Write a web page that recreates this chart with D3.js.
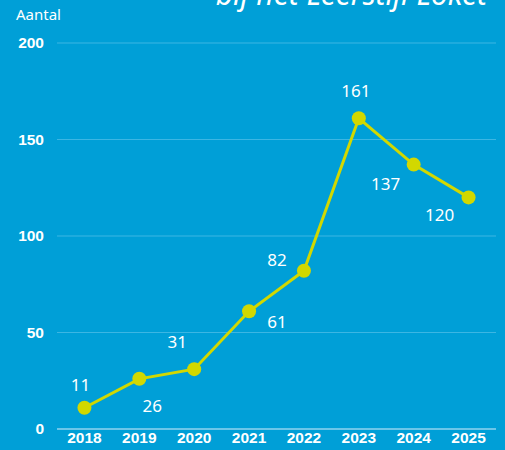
<!DOCTYPE html>
<html lang="nl">
<head>
  <meta charset="UTF-8"/>
  <title>Aantal aanmeldingen</title>
  <script src="https://d3js.org/d3.v7.min.js"></script>
  <style>
    body { margin: 0; background-color: #009fd7; }
    svg { display: block; font-family: "Noto Sans", "Open Sans", sans-serif; }
  </style>
</head>
<body>
<script>
  var years = ["2018", "2019", "2020", "2021", "2022", "2023", "2024", "2025"];
  var counts = [11, 26, 31, 61, 82, 161, 137, 120];
  var yTicks = [0, 50, 100, 150, 200];
  var title = "bij het Leerstijl Loket";
  var yLabel = "Aantal";

  // where each value label sits relative to its point [dx, dy]
  var labelOffset = [[-4, -23], [13, 27], [-17, -27], [28, 11], [-27, -11], [-3, -27], [-28, 19], [-29, 18]];

  var w = 505, h = 450;
  // note: "top" is taken by window.top, so use plot* names
  var plotLeft = 57, plotRight = 496, plotTop = 43, plotBottom = 429;

  var svg = d3.select("body").append("svg")
          .attr("width", w)
          .attr("height", h);

  svg.append("rect")
          .attr("width", w)
          .attr("height", h)
          .attr("fill", "#009fd7");

  var xScale = d3.scaleBand()
          .domain(years)
          .range([plotLeft, plotRight])
          .padding(0);

  var yScale = d3.scaleLinear()
          .domain([0, 200])
          .range([plotBottom, plotTop]);

  // gridlines
  svg.selectAll("line.grid")
          .data(yTicks)
          .enter()
          .append("line")
          .attr("class", "grid")
          .attr("x1", plotLeft)
          .attr("x2", plotRight)
          .attr("y1", function(d) { return yScale(d); })
          .attr("y2", function(d) { return yScale(d); })
          .attr("stroke", function(d) { return d == 0 ? "#8fd3ef" : "#3cb6e3"; })
          .attr("stroke-width", function(d) { return d == 0 ? 1.5 : 1; });

  var yAxis = d3.axisLeft(yScale).tickValues(yTicks).tickSize(0).tickPadding(0);
  var gy = svg.append("g")
          .attr("transform", "translate(44,0)")
          .call(yAxis);
  gy.select(".domain").remove();
  gy.selectAll("text")
          .attr("fill", "white")
          .style("font-size", "15.5px")
          .style("font-weight", "bold");

  var xAxis = d3.axisBottom(xScale).tickSize(0).tickPadding(3);
  var gx = svg.append("g")
          .attr("transform", "translate(0," + plotBottom + ")")
          .call(xAxis);
  gx.select(".domain").remove();
  gx.selectAll("text")
          .attr("fill", "white")
          .style("font-size", "15.5px")
          .style("font-weight", "bold");

  var cx = function(d, i) { return xScale(years[i]) + xScale.bandwidth() / 2; };

  var line = d3.line()
          .x(cx)
          .y(function(d) { return yScale(d); });

  svg.append("path")
          .datum(counts)
          .attr("d", line)
          .attr("fill", "none")
          .attr("stroke", "#d2d800")
          .attr("stroke-width", 3);

  svg.selectAll("circle")
          .data(counts)
          .enter()
          .append("circle")
          .attr("cx", cx)
          .attr("cy", function(d) { return yScale(d); })
          .attr("r", 7)
          .attr("fill", "#d2d800");

  svg.selectAll("text.value")
          .data(counts)
          .enter()
          .append("text")
          .attr("class", "value")
          .text(function(d) { return d; })
          .attr("x", function(d, i) { return cx(d, i) + labelOffset[i][0]; })
          .attr("y", function(d, i) { return yScale(d) + labelOffset[i][1]; })
          .attr("dy", "0.35em")
          .attr("text-anchor", "middle")
          .attr("fill", "white")
          .style("font-size", "17px");

  // y label
  svg.append("text")
          .attr("x", 16)
          .attr("y", 20)
          .text(yLabel)
          .attr("fill", "white")
          .style("font-size", "15px");

  // title, cut off at the top
  svg.append("text")
          .attr("x", 487)
          .attr("y", 5)
          .attr("text-anchor", "end")
          .text(title)
          .attr("fill", "white")
          .style("font-size", "30px")
          .style("font-style", "italic");
</script>
</body>
</html>
